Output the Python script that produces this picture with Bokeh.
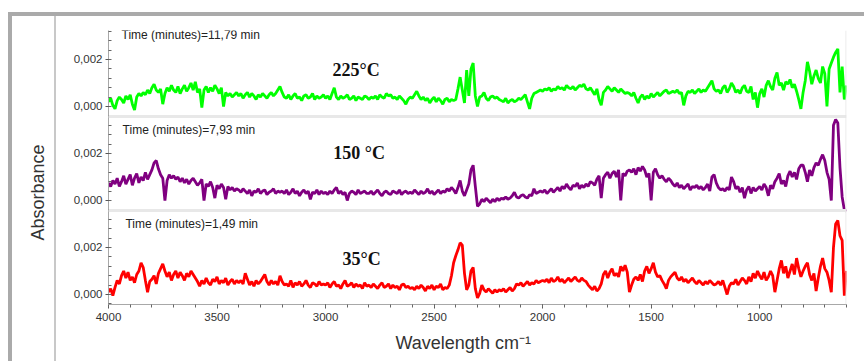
from bokeh.plotting import figure
from bokeh.models import (Range1d, FixedTicker, SingleIntervalTicker, Span, Label,
                          Title, InlineStyleSheet)
from bokeh.embed import file_html
from bokeh.resources import INLINE

# wavenumber grid of the spectra (cm-1), 4000 -> 600 every 10
wavenumber = list(range(4000, 599, -10))

# absorbance values in units of 1e-5 (0.002 = 200)
green_225 = [
    20, 35, 5, -10, 25, 40, 30, 15, 45, 30, 50, 10, -15, 40, 55, 45, 60, 50, 70, 55,
    80, 95, 70, 60, 75, 10, 55, 80, 65, 90, 70, 60, 85, 55, 75, 90, 65, 80, 100, 70,
    105, 60, 75, -5, 70, 85, 60, 80, 65, 90, 75, 55, 80, 0, 60, 45, 55, 40, 50, 60,
    45, 55, 35, 50, 60, 40, 55, 45, 30, 50, 40, 55, 45, 35, 50, 60, 45, 55, 70, 85,
    60, 40, 35, 50, 30, 45, 55, 35, 40, 25, 45, 50, 35, 40, 55, 30, 45, 35, 40, 50,
    35, 45, 30, 55, 80, 40, 30, 45, 35, 40, 50, 30, 35, 45, 25, 40, 35, 30, 45, 40,
    30, 40, 35, 45, 30, 50, 40, 35, 55, 45, 50, 35, 40, 30, 45, 35, 25, 10, 30, 40,
    35, 50, 65, 45, 30, 40, 25, 35, 15, 30, 40, 20, 35, 25, 10, 30, 35, 20, 30, 25,
    30, 75, 125, 70, 15, 155, 45, 160, 185, 45, 0, 40, 45, 60, 35, 25, 40, 45, 35, 40,
    30, 25, 20, 35, 15, 25, 30, 20, 25, 35, 30, 40, 50, 20, -10, 35, 55, 60, 65, 70,
    65, 75, 70, 80, 65, 75, 70, 85, 75, 80, 70, 90, 80, 75, 85, 70, 80, 90, 85, 95,
    75, 70, 80, 65, 50, 75, 30, 5, 60, 70, 85, 75, 65, 80, 70, 60, 75, 65, 55, 60,
    55, 45, 60, 35, 15, 40, 50, 30, 45, 35, 55, 40, 50, 60, 45, 55, 65, 70, 55, 60,
    65, 60, 70, 55, 60, 5, 45, 65, 60, 70, 55, 65, 75, 60, 70, 65, 80, 95, 110, 75,
    65, 70, 55, 80, 90, 60, 75, 100, 85, 60, 70, 55, 80, 90, 65, 60, 85, 30, 60, -5,
    55, 75, 40, 90, 110, 85, 70, 120, 145, 90, 100, 70, 105, 95, 115, 80, 95, 65, 30, -10,
    60, 110, 190, 150, 95, 130, 155, 120, 100, 170, 140, 0, 160, 185, 210, 230, 245, 60, 170, 30,
    90,
]
purple_150 = [
    75, 60, 85, 70, 95, 60, 80, 105, 70, 90, 110, 65, 95, 115, 75, 100, 85, 120, 90, 110,
    130, 160, 170, 135, 110, 95, 0, 85, 110, 95, 105, 90, 100, 80, 95, 75, 90, 70, 85, 95,
    80, 65, 75, 90, 0, 70, 60, 80, 55, 10, 65, 50, 70, 55, 5, 60, 45, 55, 40, 50,
    45, 35, 50, 40, 30, 45, 20, 40, 35, 50, 30, 40, 45, 25, 35, 40, 50, 30, 40, 35,
    40, 30, 45, 25, 35, 50, 30, 40, 20, 35, 45, 30, 40, 5, 35, 30, 45, 25, 40, 30,
    35, 25, 40, 30, 45, 55, 30, 40, 25, 35, 0, 30, 40, 35, 25, 45, 30, 35, 40, 30,
    30, 40, 25, 35, 45, 30, 20, 35, 40, 30, 25, 40, 35, 30, 45, 25, 35, 40, 30, 35,
    30, 45, 35, 25, 40, 30, 35, 50, 30, 40, 25, 35, 45, 30, 40, 35, 50, 40, 55, 45,
    30, 55, 85, 40, 20, 45, 70, 130, 150, 60, -25, -15, 5, -5, 10, 0, -10, 5, -5, 10,
    0, 10, 5, 15, 5, 10, 20, 35, 15, 10, 20, 25, 15, 10, 25, 20, 50, 30, 35, 40,
    35, 45, 30, 40, 50, 35, 45, 55, 40, 60, 50, 70, 55, 45, 65, 60, 75, 50, 65, 55,
    70, 60, 80, 75, 65, 90, 105, 10, 95, 110, 120, 95, 115, 125, 100, 130, 0, 115, 105, 125,
    130, 120, 135, 110, 140, 125, 145, 130, 100, 115, 0, 120, 135, 110, 95, 105, 90, 80, 95, 85,
    70, 60, 75, 55, 65, 50, 60, 70, 45, 60, 55, 65, 50, 60, 45, 55, 70, 40, 100, 110,
    75, 55, 45, 50, 40, 55, 45, 100, 80, 50, 60, 35, 55, 10, 45, 60, 30, 55, 40, 50,
    60, 45, 70, 55, 20, 65, 50, 80, 95, 115, 70, 85, 60, 105, 125, 100, 120, 90, 135, 150,
    150, 120, 80, 130, 105, 140, 160, 150, 175, 195, 170, 120, 90, 0, 320, 345, 330, 140, 15, -40,
    -45,
]
red_35 = [
    10, 25, -5, 30, 60, 45, 80, 100, 70, 95, 60, 75, 50, 85, 100, 135, 115, 60, 10, 55,
    65, 80, 45, 90, 110, 130, 100, 75, 95, 60, 85, 100, 70, 95, 80, 60, 90, 75, 100, 85,
    70, 55, 35, 60, 45, 70, 50, 40, 65, 55, 75, 45, 60, 50, 70, 40, 55, 65, 45, 60,
    50, 60, 45, 90, 65, 40, 55, 35, 60, 45, 55, 70, 85, 55, 40, 60, 45, 55, 40, 80,
    55, 40, 45, 35, 60, 30, 50, 40, 55, 35, 45, 60, 40, 30, 50, 45, 35, 55, 40, 45,
    40, 50, 30, 45, 55, 35, 40, 25, 45, 60, 35, 40, 50, 30, 45, 35, 40, 25, 50, 35,
    40, 30, 45, 35, 25, 40, 50, 30, 35, 45, 25, 40, 30, 35, 20, 40, 45, 30, 35, 25,
    30, 20, 35, 25, 40, 30, 15, 35, 25, 40, 20, 35, 30, 45, 20, 30, 25, 40, 80, 135,
    165, 190, 220, 210, 90, 20, 40, 100, 115, 25, -15, 5, 40, 20, 10, 25, 15, 5, 20, 10,
    20, 15, 25, 10, 20, 30, 15, 25, 45, 40, 50, 35, 45, 55, 40, 50, 45, 60, 50, 55,
    60, 55, 65, 50, 70, 55, 60, 75, 55, 65, 50, 60, 70, 55, 65, 75, 60, 55, 70, 60,
    55, 40, 30, 20, 35, 15, 25, 45, 85, 100, 70, 95, 110, 80, 90, 75, 120, 100, 125, 95,
    10, 40, 65, 75, 60, 85, 55, 100, 120, 90, 110, 135, 95, 75, 80, 60, 45, 25, 60, 75,
    85, 95, 70, 60, 75, 55, 65, 50, 60, 70, 55, 45, 60, 50, 40, 55, 45, 60, 50, 40,
    45, 55, 40, 60, 30, 0, 35, 50, 45, 65, 40, 55, 70, 60, 45, 75, 55, 90, 70, 100,
    80, 65, 95, 60, 75, 100, 80, 10, 60, 110, 145, 90, 120, 70, 100, 130, 85, 155, 110, 75,
    100, 120, 135, 85, 60, 90, 15, 70, 120, 155, 110, 95, 60, 10, 200, 300, 315, 250, 230, -5,
    100,
]

x_tick_values = [4000, 3500, 3000, 2500, 2000, 1500, 1000]
y_tick_values = [0, 200, 400, 600, 800, 1000]
y_tick_labels = ["0,000", "0,002", "0,000", "0,002", "0,000", "0,002"]
time_labels = ["Time (minutes)=11,79 min", "Time (minutes)=7,93 min", "Time (minutes)=1,49 min"]
temp_labels = ["225\u00b0C", "150 \u00b0C", "35\u00b0C"]
x_title = "Wavelength cm\u207b\u00b9"
y_title = "Absorbance"

n = min(len(wavenumber), len(green_225), len(purple_150), len(red_35))
wn = wavenumber[:n]

p = figure(width=864, height=361, output_backend="svg", toolbar_location=None,
           x_range=Range1d(4000, 600), y_range=Range1d(-42.6, 1123.4),
           min_border_left=108, min_border_right=18, min_border_top=30,
           min_border_bottom=57)
p.extra_y_ranges = {"mid": Range1d(-442.6, 723.4), "top": Range1d(-842.6, 323.4)}
p.outline_line_color = None
p.xgrid.visible = False
p.ygrid.visible = False
p.background_fill_color = "white"
p.border_fill_color = "white"

# outer window frame (grey bars and thin divider), drawn with CSS on the figure host
p.stylesheets = [InlineStyleSheet(css="""
:host::before { content: ""; position: absolute; left: 8px; top: 12px; width: 856px;
  height: 4px; background: #aaaaaa; z-index: 5; pointer-events: none; }
:host::after { content: ""; position: absolute; left: 8px; top: 16px; width: 42px;
  height: 345px; border-left: 4px solid #aaaaaa; border-right: 2px solid #c8c8c8;
  z-index: 5; pointer-events: none; }
""")]

# panel separators and right frame edge
for loc in [357, 757]:
    p.add_layout(Span(location=loc, dimension="width", line_color="#e8e8e8", line_width=3))
p.add_layout(Span(location=602, dimension="height", line_color="#e4e4e4", line_width=1))

p.line(wn, red_35[:n], line_color="#ff0000", line_width=2.8)
p.line(wn, purple_150[:n], line_color="#800080", line_width=2.8, y_range_name="mid")
p.line(wn, green_225[:n], line_color="#00ff00", line_width=2.8, y_range_name="top")

xa = p.xaxis[0]
xa.ticker = SingleIntervalTicker(interval=500, num_minor_ticks=5)
xa.major_label_text_font = "Liberation Sans"
xa.major_label_text_font_size = "11.5px"
xa.major_label_text_color = "#333333"
xa.axis_line_color = "#a8a8a8"
xa.major_tick_line_color = "#555555"
xa.minor_tick_line_color = "#666666"
xa.major_tick_in = 0
xa.major_tick_out = 4
xa.minor_tick_in = 0
xa.minor_tick_out = 3
xa.major_label_standoff = 4

ya = p.yaxis[0]
ya.ticker = FixedTicker(ticks=y_tick_values, minor_ticks=list(range(-40, 1121, 40)))
ya.major_label_overrides = {v: t for v, t in zip(y_tick_values, y_tick_labels)}
ya.major_label_text_font = "Liberation Sans"
ya.major_label_text_font_size = "11.5px"
ya.major_label_text_color = "#333333"
ya.axis_line_color = "#a8a8a8"
ya.major_tick_line_color = "#555555"
ya.minor_tick_line_color = "#666666"
ya.major_tick_in = 2
ya.major_tick_out = 3
ya.minor_tick_in = 3
ya.minor_tick_out = 0
ya.major_label_standoff = 3

# axis titles as side titles (not clipped by the frame)
p.add_layout(Title(text=x_title, align="left", offset=287, standoff=14,
                   text_font="Liberation Sans", text_font_size="18px",
                   text_font_style="normal", text_color="#333333"), "below")
p.add_layout(Title(text=y_title, align="left", offset=64, standoff=46,
                   text_font="Liberation Sans", text_font_size="18px",
                   text_font_style="normal", text_color="#333333"), "left")

# time labels
for (tx, ty), t in zip([(3940, 1106), (3935, 702), (3922, 302)], time_labels):
    p.add_layout(Label(x=tx, y=ty, text=t, text_font="Liberation Sans",
                       text_font_size="12px", text_color="#222222",
                       text_baseline="middle", text_align="left"))
# temperature labels
for (tx, ty), t in zip([(2968, 957), (2964, 604), (2922, 153)], temp_labels):
    p.add_layout(Label(x=tx, y=ty, text=t, text_font="Liberation Serif",
                       text_font_size="18px", text_font_style="bold",
                       text_color="#111111", text_baseline="middle", text_align="left"))

open("out.html", "w").write(file_html(p, INLINE))
